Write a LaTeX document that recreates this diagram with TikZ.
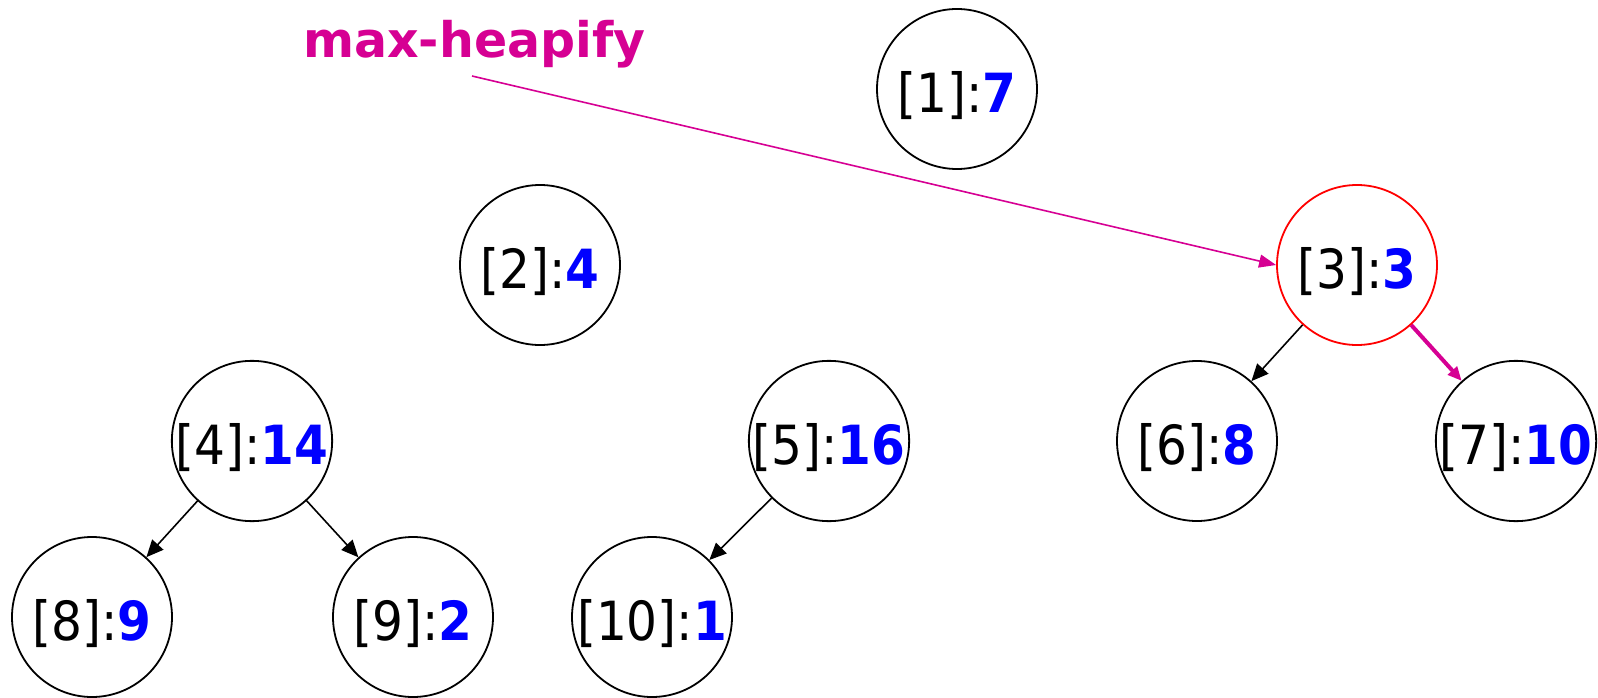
\documentclass[tikz,border=0pt]{standalone}
\usepackage{fontspec}
\setmainfont{DejaVu Sans Condensed}
\newfontfamily\titlefont{DejaVu Sans}
\usetikzlibrary{arrows.meta}
\definecolor{hmag}{RGB}{214,0,147}
\definecolor{nblue}{RGB}{0,0,255}
\tikzset{
  hnode/.style={circle, draw=black, line width=1.8pt, minimum size=160pt, inner sep=0pt,
    font=\fontsize{54}{60}\selectfont, text height=48pt, text depth=1pt},
  hot/.style={draw=red},
  edge/.style={line width=1.6pt, -{Triangle[length=17pt,width=15pt]}},
  hedge/.style={draw=hmag, line width=4pt, -{Triangle[length=14pt,width=12pt]}},
  ptr/.style={draw=hmag, line width=1.6pt, -{Triangle[length=17pt,width=13pt]}},
}
\newcommand{\hv}[2]{[#1]:{\bfseries\color{nblue}#2}}
\begin{document}
\begin{tikzpicture}[x=1pt,y=-1pt]
\useasboundingbox (0,0) rectangle (1598,698);
\node[hnode] (n1) at (957,89) {\hv{1}{7}};
\node[hnode] (n2) at (540,265) {\hv{2}{4}};
\node[hnode,hot] (n3) at (1357,265) {\hv{3}{3}};
\node[hnode] (n4) at (252,441) {\hv{4}{14}};
\node[hnode] (n5) at (829,441) {\hv{5}{16}};
\node[hnode] (n6) at (1197,441) {\hv{6}{8}};
\node[hnode] (n7) at (1516,441) {\hv{7}{10}};
\node[hnode] (n8) at (92,617) {\hv{8}{9}};
\node[hnode] (n9) at (413,617) {\hv{9}{2}};
\node[hnode] (n10) at (652,617) {\hv{10}{1}};
\node[anchor=base west, inner sep=0pt, text=hmag, font=\titlefont\bfseries\fontsize{49}{54}\selectfont] (title) at (303,58) {max-heapify};
\coordinate (hstart) at (472,76);
\draw[edge] (n4) -- (n8);
\draw[edge] (n4) -- (n9);
\draw[edge] (n5) -- (n10);
\draw[edge] (n3) -- (n6);
\draw[hedge] (n3) -- (n7);
\draw[ptr] (hstart) -- (n3.west);
\end{tikzpicture}
\end{document}
